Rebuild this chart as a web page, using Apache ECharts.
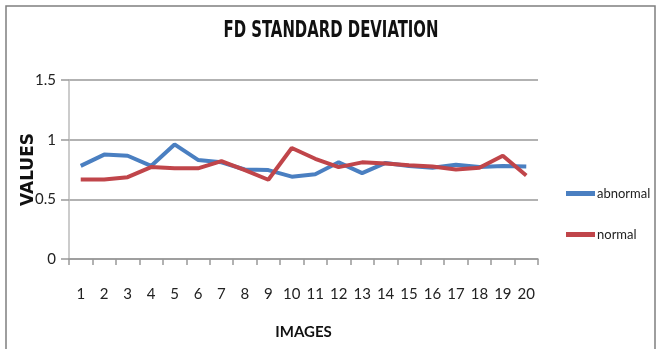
<!DOCTYPE html>
<html>
<head>
<meta charset="utf-8">
<style>
  html, body { margin: 0; padding: 0; background: #fff; }
  #chart { width: 662px; height: 349px; }
</style>
<script src="https://cdn.jsdelivr.net/npm/echarts@6/dist/echarts.min.js"></script>
</head>
<body>
<div id="chart"></div>
<script>
// Image indices along the x axis
const images = ['1','2','3','4','5','6','7','8','9','10','11','12','13','14','15','16','17','18','19','20'];
// FD standard deviation per image
const abnormal = [0.78, 0.875, 0.865, 0.78, 0.96, 0.83, 0.81, 0.75, 0.745, 0.69, 0.71, 0.81, 0.72, 0.805, 0.78, 0.765, 0.79, 0.77, 0.78, 0.775];
const normal   = [0.667, 0.667, 0.686, 0.77, 0.76, 0.76, 0.82, 0.745, 0.664, 0.93, 0.84, 0.77, 0.81, 0.80, 0.785, 0.775, 0.75, 0.765, 0.865, 0.70];
// Value axis ticks
const yMin = 0, yMax = 1.5, yStep = 0.5;

const FONT = 'Lato, "DejaVu Sans Condensed", sans-serif';
const TITLE_FONT = '"DejaVu Sans Condensed", sans-serif';
const chart = echarts.init(document.getElementById('chart'), null, { renderer: 'canvas' });

chart.setOption({
  animation: false,
  backgroundColor: '#fff',
  graphic: [
    {
      type: 'rect',
      shape: { x: 6, y: 6, width: 649, height: 360 },
      style: { fill: 'none', stroke: '#7f7f7f', lineWidth: 1.5 },
      silent: true
    },
    {
      // chart title, drawn narrow
      type: 'text',
      x: 331,
      y: 31,
      scaleX: 0.72,
      style: {
        text: 'FD STANDARD DEVIATION',
        font: 'bold 23px ' + TITLE_FONT,
        fill: '#111',
        align: 'center',
        verticalAlign: 'middle'
      },
      silent: true
    }
  ],
  legend: {
    orient: 'vertical',
    left: 561,
    top: 182,
    itemWidth: 29,
    itemHeight: 5,
    itemGap: 28,
    icon: 'rect',
    textStyle: { fontFamily: FONT, fontSize: 13, color: '#222', padding: [0, 0, 0, -3] },
    data: ['abnormal', 'normal']
  },
  grid: { left: 69, right: 124, top: 80, bottom: 90 },
  xAxis: {
    type: 'category',
    data: images,
    boundaryGap: true,
    name: 'IMAGES',
    nameLocation: 'middle',
    nameGap: 66,
    nameTextStyle: { fontFamily: FONT, fontSize: 15, fontWeight: 'bold', color: '#111' },
    axisLine: { lineStyle: { color: '#999', width: 1.5 } },
    axisTick: { show: true, alignWithLabel: false, length: 6, lineStyle: { color: '#999', width: 1.5 } },
    axisLabel: { fontFamily: FONT, fontSize: 15, color: '#222', margin: 28, interval: 0 }
  },
  yAxis: {
    type: 'value',
    min: yMin,
    max: yMax,
    interval: yStep,
    name: 'VALUES',
    nameLocation: 'middle',
    nameGap: 32,
    nameMoveOverlap: false,
    nameRotate: 90,
    nameTextStyle: { fontFamily: '"DejaVu Sans", sans-serif', fontSize: 17, fontWeight: 'bold', color: '#111' },
    axisLine: { show: true, lineStyle: { color: '#bbb', width: 1.5 } },
    axisTick: { show: true, length: 8, lineStyle: { color: '#999', width: 1.5 } },
    axisLabel: {
      fontFamily: FONT, fontSize: 15, color: '#222', margin: 13,
      formatter: v => String(Number(v.toFixed(1)))
    },
    splitLine: { show: true, lineStyle: { color: '#999', width: 1.5 } }
  },
  series: [
    {
      name: 'abnormal',
      type: 'line',
      data: abnormal,
      symbol: 'none',
      color: '#4a7fc1',
      lineStyle: { width: 4, color: '#4a7fc1' }
    },
    {
      name: 'normal',
      type: 'line',
      data: normal,
      symbol: 'none',
      color: '#c0454a',
      lineStyle: { width: 4, color: '#c0454a' }
    }
  ]
});
</script>
</body>
</html>
